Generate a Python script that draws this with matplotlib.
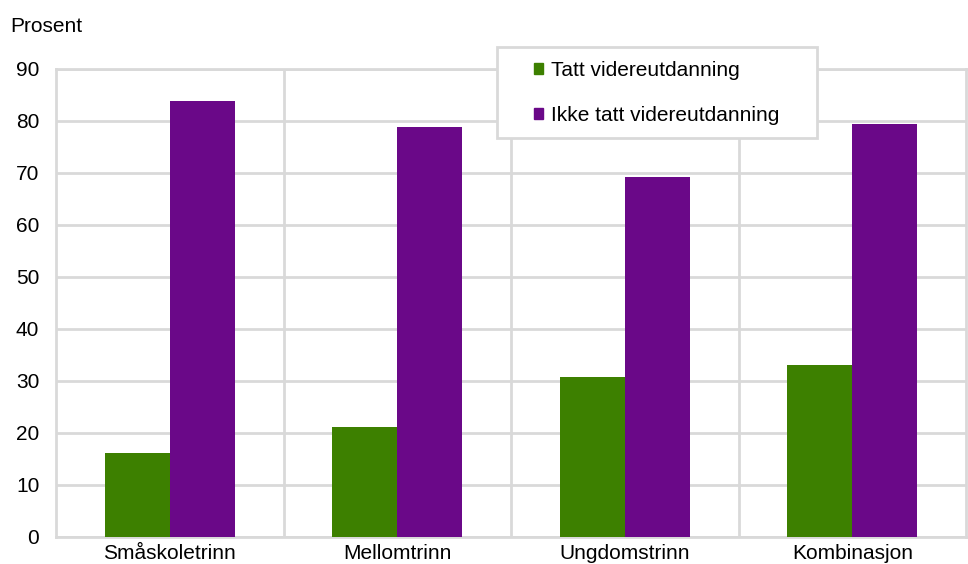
import numpy as np
import matplotlib.pyplot as plt
from matplotlib.patches import Patch, Rectangle

plt.rcParams['font.family'] = ['Liberation Sans', 'DejaVu Sans']

# Data
categories = ['Småskoletrinn', 'Mellomtrinn', 'Ungdomstrinn', 'Kombinasjon']
tatt = [16.2, 21.2, 30.7, 33.1]
ikke_tatt = [83.8, 78.8, 69.2, 79.4]
series_names = ['Tatt videreutdanning', 'Ikke tatt videreutdanning']
colors = ['#3d8000', '#6a0888']

W, H = 968, 564
fig = plt.figure(figsize=(W / 100, H / 100), dpi=100)
ax = fig.add_axes([56 / W, 27 / H, 910 / W, 468 / H])

x = np.arange(len(categories))
w = 0.286
ax.bar(x - w / 2, tatt, w, color=colors[0], zorder=3)
ax.bar(x + w / 2, ikke_tatt, w, color=colors[1], zorder=3)

ax.set_xlim(-0.5, len(categories) - 0.5)
ax.set_ylim(0, 90)
ax.set_yticks(np.arange(0, 91, 10))
ax.set_xticks(x)
ax.set_xticklabels(categories, fontsize=15)
ax.tick_params(axis='y', labelsize=15, length=0, pad=12)
ax.tick_params(axis='x', length=0, pad=5)

# grid: horizontal at ticks, vertical between categories
ax.yaxis.grid(True, color='#d9d9d9', linewidth=2, zorder=0)
for b in np.arange(0.5, len(categories) - 0.5, 1):
    ax.axvline(b, color='#d9d9d9', linewidth=2, zorder=0)
for s in ax.spines.values():
    s.set_color('#d9d9d9')
    s.set_linewidth(2)

fig.text(10 / W, 1 - 27 / H, 'Prosent', fontsize=15, va='center', ha='left')

# legend box
box = Rectangle((497 / W, 1 - 138 / H), 320 / W, 91 / H, transform=fig.transFigure,
                facecolor='white', edgecolor='#d9d9d9', linewidth=2, zorder=5)
fig.patches.append(box)

handles = [Patch(color=c) for c in colors]
leg = fig.legend(handles, series_names, loc='upper left',
                 bbox_to_anchor=(534 / W, 1 - 61 / H),
                 fontsize=15, frameon=False,
                 handlelength=0.45, handleheight=0.45, handletextpad=0.35,
                 labelspacing=1.25, borderpad=0, borderaxespad=0)
leg.set_zorder(10)

fig.savefig('out.png', dpi=100)
